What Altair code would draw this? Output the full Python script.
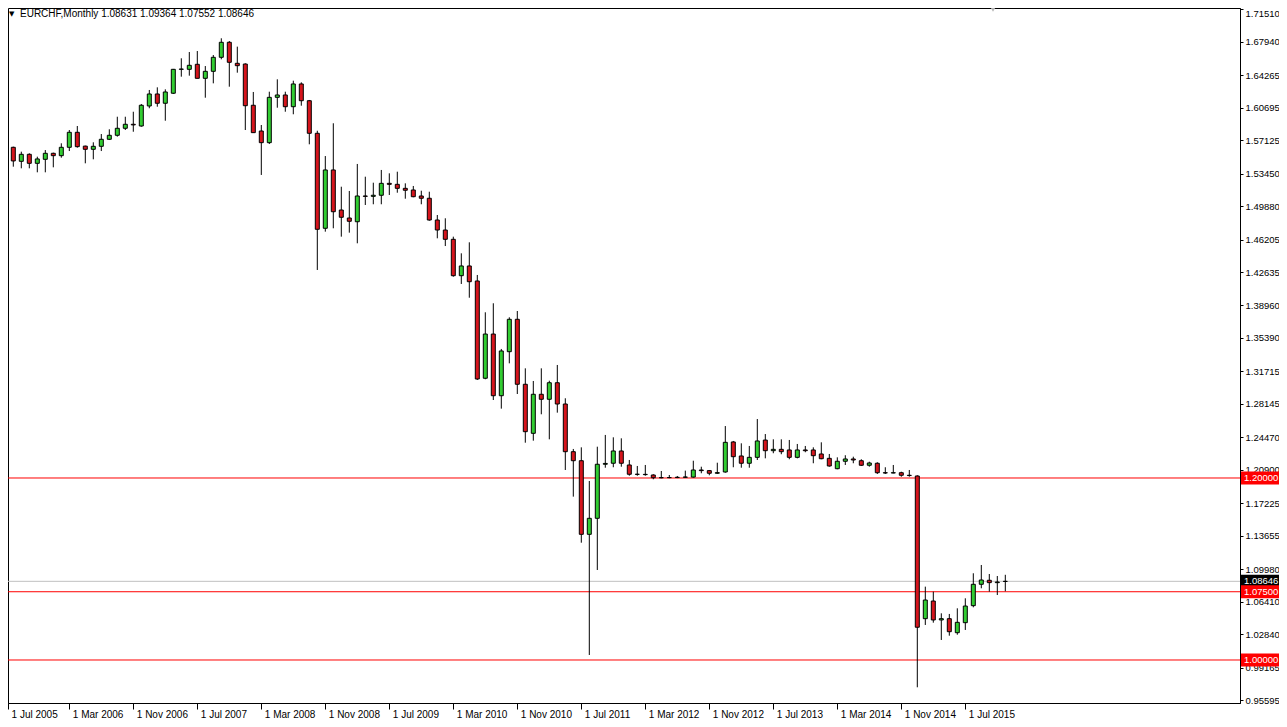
import json
import altair as alt
import pandas as pd

# ---- data (EURCHF monthly, Jul 2005 .. Dec 2015) ----
opens = [1.5513, 1.5634, 1.5480, 1.5557, 1.5458, 1.5502, 1.5568, 1.5542, 1.5634, 1.5799,
         1.5647, 1.5612, 1.5645, 1.5722, 1.5766, 1.5843, 1.5887, 1.5868, 1.6088, 1.6220,
         1.6118, 1.6228, 1.6491, 1.6491, 1.6546, 1.6392, 1.6469, 1.6623, 1.6788, 1.6557,
         1.6549, 1.6096, 1.5813, 1.5685, 1.6183, 1.6209, 1.6080, 1.6330, 1.6146, 1.5788,
         1.4744, 1.5385, 1.4945, 1.4857, 1.4816, 1.5099, 1.5095, 1.5107, 1.5238, 1.5227,
         1.5183, 1.5165, 1.5099, 1.5074, 1.4835, 1.4725, 1.4623, 1.4223, 1.4330, 1.4165,
         1.3096, 1.3582, 1.2904, 1.3388, 1.3744, 1.3030, 1.2491, 1.2920, 1.2865, 1.3047,
         1.2813, 1.2289, 1.2190, 1.1381, 1.1557, 1.2151, 1.2162, 1.2297, 1.2143, 1.2041,
         1.2040, 1.2033, 1.2003, 1.2004, 1.2005, 1.2008, 1.2010, 1.2088, 1.2081, 1.2052,
         1.2066, 1.2396, 1.2242, 1.2162, 1.2227, 1.2417, 1.2300, 1.2315, 1.2308, 1.2227,
         1.2308, 1.2308, 1.2264, 1.2216, 1.2102, 1.2184, 1.2209, 1.2190, 1.2140, 1.2162,
         1.2058, 1.2055, 1.2058, 1.2030, 1.2022, 1.0454, 1.0648, 1.0440, 1.0454, 1.0300,
         1.0410, 1.0597, 1.0832, 1.0876, 1.0850, 1.08631]
highs = [1.5659, 1.5641, 1.5586, 1.5568, 1.5531, 1.5604, 1.5575, 1.5678, 1.5824, 1.5868,
         1.5652, 1.5689, 1.5780, 1.5832, 1.5970, 1.5970, 1.6025, 1.6110, 1.6264, 1.6293,
         1.6271, 1.6495, 1.6612, 1.6681, 1.6692, 1.6527, 1.6648, 1.6832, 1.6802, 1.6740,
         1.6557, 1.6242, 1.5879, 1.6245, 1.6381, 1.6245, 1.6366, 1.6348, 1.6154, 1.5816,
         1.5538, 1.5898, 1.5201, 1.5154, 1.5451, 1.5311, 1.5245, 1.5385, 1.5348, 1.5366,
         1.5238, 1.5209, 1.5157, 1.5146, 1.4890, 1.4854, 1.4652, 1.4469, 1.4590, 1.4231,
         1.3821, 1.3920, 1.3418, 1.3766, 1.3835, 1.3205, 1.3066, 1.3205, 1.3069, 1.3242,
         1.2876, 1.2319, 1.2337, 1.1967, 1.2344, 1.2473, 1.2447, 1.2436, 1.2198, 1.2132,
         1.2143, 1.2041, 1.2077, 1.2033, 1.2022, 1.2081, 1.2190, 1.2124, 1.2088, 1.2168,
         1.2571, 1.2407, 1.2381, 1.2352, 1.2648, 1.2483, 1.2425, 1.2425, 1.2418, 1.2374,
         1.2352, 1.2337, 1.2392, 1.2264, 1.2227, 1.2250, 1.2234, 1.2206, 1.2179, 1.2173,
         1.2118, 1.2143, 1.2069, 1.2088, 1.2030, 1.0806, 1.0751, 1.0513, 1.0506, 1.0568,
         1.0678, 1.0953, 1.1044, 1.0945, 1.0923, 1.09364]
lows = [1.5440, 1.5421, 1.5403, 1.5403, 1.5359, 1.5359, 1.5414, 1.5520, 1.5593, 1.5630,
        1.5458, 1.5502, 1.5593, 1.5714, 1.5751, 1.5824, 1.5805, 1.5860, 1.6063, 1.6080,
        1.5926, 1.6220, 1.6410, 1.6421, 1.6392, 1.6179, 1.6337, 1.6601, 1.6300, 1.6454,
        1.5824, 1.5795, 1.5330, 1.5670, 1.6069, 1.6025, 1.5997, 1.6091, 1.5667, 1.4286,
        1.4707, 1.4744, 1.4652, 1.4696, 1.4579, 1.5000, 1.5008, 1.5008, 1.5110, 1.5135,
        1.5069, 1.5085, 1.5008, 1.4827, 1.4634, 1.4549, 1.4212, 1.4132, 1.3981, 1.3077,
        1.3085, 1.2857, 1.2762, 1.3260, 1.2923, 1.2388, 1.2410, 1.2700, 1.2425, 1.2718,
        1.2088, 1.1795, 1.1289, 1.0055, 1.0989, 1.2113, 1.2118, 1.2124, 1.2025, 1.2025,
        1.2025, 1.1986, 1.1997, 1.1998, 1.1999, 1.2000, 1.2004, 1.2052, 1.2030, 1.2044,
        1.2058, 1.2118, 1.2113, 1.2113, 1.2198, 1.2216, 1.2272, 1.2261, 1.2206, 1.2216,
        1.2283, 1.2162, 1.2206, 1.2124, 1.2096, 1.2143, 1.2162, 1.2132, 1.2124, 1.2044,
        1.2044, 1.2052, 1.2014, 1.2014, 0.9700, 1.0385, 1.0410, 1.0220, 1.0267, 1.0278,
        1.0330, 1.0579, 1.0788, 1.0751, 1.0714, 1.07552]
closes = [1.5641, 1.5484, 1.5557, 1.5458, 1.5506, 1.5568, 1.5542, 1.5634, 1.5799, 1.5641,
          1.5612, 1.5645, 1.5722, 1.5766, 1.5843, 1.5887, 1.5880, 1.6096, 1.6220, 1.6118,
          1.6242, 1.6491, 1.6494, 1.6535, 1.6392, 1.6469, 1.6623, 1.6788, 1.6568, 1.6531,
          1.6091, 1.5795, 1.5685, 1.6183, 1.6209, 1.6080, 1.6330, 1.6146, 1.5788, 1.4733,
          1.5385, 1.4926, 1.4865, 1.4821, 1.5099, 1.5095, 1.5107, 1.5238, 1.5227, 1.5183,
          1.5162, 1.5091, 1.5074, 1.4835, 1.4725, 1.4623, 1.4223, 1.4330, 1.4157, 1.3088,
          1.3582, 1.2904, 1.3396, 1.3744, 1.3030, 1.2509, 1.2920, 1.2865, 1.3047, 1.2813,
          1.2289, 1.2190, 1.1381, 1.1557, 1.2151, 1.2160, 1.2297, 1.2162, 1.2041, 1.2040,
          1.2037, 1.2003, 1.2004, 1.2005, 1.2008, 1.2011, 1.2088, 1.2081, 1.2052, 1.2059,
          1.2392, 1.2234, 1.2162, 1.2227, 1.2407, 1.2300, 1.2315, 1.2289, 1.2227, 1.2308,
          1.2300, 1.2245, 1.2212, 1.2132, 1.2184, 1.2209, 1.2198, 1.2140, 1.2165, 1.2058,
          1.2055, 1.2058, 1.2030, 1.2027, 1.0360, 1.0659, 1.0440, 1.0454, 1.0311, 1.0414,
          1.0593, 1.0832, 1.0879, 1.0850, 1.0857, 1.08646]

tick_labels = ["1 Jul 2005", "1 Mar 2006", "1 Nov 2006", "1 Jul 2007", "1 Mar 2008",
               "1 Nov 2008", "1 Jul 2009", "1 Mar 2010", "1 Nov 2010", "1 Jul 2011",
               "1 Mar 2012", "1 Nov 2012", "1 Jul 2013", "1 Mar 2014", "1 Nov 2014",
               "1 Jul 2015"]
price_ticks = [1.71510, 1.67940, 1.64265, 1.60695, 1.57125, 1.53450, 1.49880, 1.46205,
               1.42635, 1.38960, 1.35390, 1.31715, 1.28145, 1.24470, 1.20900, 1.17225,
               1.13655, 1.09980, 1.06410, 1.02840, 0.99165, 0.95595]
level_prices = [1.20000, 1.07500, 1.00000]
symbol = "EURCHF,Monthly"

# ---- tables ----
n = len(opens)
months = []
yy, mm = 2005, 7
for _ in range(n):
    months.append(f"{yy}-{mm:02d}")
    mm += 1
    if mm > 12:
        mm, yy = 1, yy + 1

df = pd.DataFrame({"idx": list(range(n)), "month": months, "open": opens,
                   "high": highs, "low": lows, "close": closes})
df["dir"] = ["up" if c >= o else "down" for o, c in zip(opens, closes)]

last_close = closes[-1]
cur_tag = pd.DataFrame({"price": [last_close]})
cur_tag["label"] = [f"{p:.5f}" for p in cur_tag["price"]]
lvl_tag = pd.DataFrame({"price": level_prices})
lvl_tag["label"] = [f"{p:.5f}" for p in lvl_tag["price"]]

FONT = "Liberation Sans"
tick_step = 8
X_MIN, X_MAX = 0.3375, 154.3375
x_scale = alt.Scale(domain=[X_MIN, X_MAX], nice=False, zero=False, padding=0)
y_scale = alt.Scale(domain=[0.952743, 1.716479], nice=False, zero=False, padding=0)

# first label sits at the left edge (its month starts just before the visible range)
x_tick_values = [max(i * tick_step, X_MIN + 0.01) for i in range(len(tick_labels))]
label_expr = f"{json.dumps(tick_labels)}[round(datum.value / {tick_step})]"
x_axis = alt.Axis(values=x_tick_values,
                  labelExpr=label_expr, title=None, grid=False,
                  tickSize=6, tickColor="black", domainColor="black",
                  labelAlign="left", labelBaseline="alphabetic", labelPadding=8,
                  labelOffset=3, labelFont=FONT, labelFontSize=10, labelColor="black",
                  labelOverlap=False, labelFlush=False, labelBound=False)
y_axis = alt.Axis(orient="right", values=price_ticks, format=".5f", title=None,
                  grid=False, tickSize=3, tickColor="black", domainColor="black",
                  labelPadding=2, labelFont=FONT, labelFontSize=9.5, labelColor="black",
                  labelBaseline="middle", labelOverlap=False, labelFlush=False,
                  labelBound=False,
                  labelOffset={"condition": {"test": f"datum.value > {price_ticks[1] + 0.01}",
                                             "value": 4}, "value": 0})


def Y(field):
    return alt.Y(field, scale=y_scale, axis=y_axis)


def X(field):
    return alt.X(field, scale=x_scale, axis=x_axis)


base = alt.Chart(df)

level_rules = alt.Chart(lvl_tag).mark_rule(color="#FF0000", strokeWidth=1).encode(
    y=Y("price:Q"))
cur_rule = alt.Chart(cur_tag).mark_rule(color="#C0C0C0", strokeWidth=1).encode(
    y=Y("price:Q"))

wicks = base.mark_rule(color="black", strokeWidth=1, clip=True).encode(
    x=X("idx:Q"), y=Y("low:Q"), y2="high:Q")

bodies = base.mark_bar(width=4, stroke="black", strokeWidth=1, clip=True).encode(
    x=X("idx:Q"), y=Y("open:Q"), y2="close:Q",
    fill=alt.Fill("dir:N", scale=alt.Scale(domain=["up", "down"],
                                           range=["#32CD32", "#D5141C"]), legend=None))

BOX_X0, BOX_X1, TXT_X = 1233, 1271, 1236
cur_box = alt.Chart(cur_tag).mark_rect(yOffset=-6.5, y2Offset=6.5, color="#000000").encode(
    x=alt.value(BOX_X0), x2=alt.value(BOX_X1), y=Y("price:Q"), y2="price:Q")
lvl_box = alt.Chart(lvl_tag).mark_rect(yOffset=-6.5, y2Offset=6.5, color="#FF0000").encode(
    x=alt.value(BOX_X0), x2=alt.value(BOX_X1), y=Y("price:Q"), y2="price:Q")
cur_text = alt.Chart(cur_tag).mark_text(color="white", font=FONT, fontSize=9.5,
                                        align="left", baseline="middle").encode(
    x=alt.value(TXT_X), y=Y("price:Q"), text="label:N")
lvl_text = alt.Chart(lvl_tag).mark_text(color="white", font=FONT, fontSize=9.5,
                                        align="left", baseline="middle").encode(
    x=alt.value(TXT_X), y=Y("price:Q"), text="label:N")

header_text = f"{symbol}  " + " ".join(f"{v:.5f}" for v in
                                        (opens[-1], highs[-1], lows[-1], closes[-1]))
header = alt.Chart(pd.DataFrame({"t": [header_text]})).mark_text(
    font=FONT, fontSize=10, color="black", align="left", baseline="alphabetic").encode(
    x=alt.value(12), y=alt.value(9), text="t:N")
arrow = alt.Chart(pd.DataFrame({"t": ["\u25BC"]})).mark_text(
    font="DejaVu Sans", fontSize=7, color="black", align="left", baseline="alphabetic").encode(
    x=alt.value(1), y=alt.value(8), text="t:N")
shift_mark = alt.Chart(pd.DataFrame({"t": [0]})).mark_point(
    shape="triangle-down", filled=True, color="#B4B4B4", size=40, opacity=1).encode(
    x=alt.value(985), y=alt.value(1))

chart = alt.layer(level_rules, cur_rule, wicks, bodies, cur_box, lvl_box, cur_text,
                  lvl_text, header, arrow, shift_mark).properties(
    width=1232, height=695,
    autosize=alt.AutoSizeParams(type="none"),
    padding={"left": 0, "top": 0, "right": 39, "bottom": 15},
    background="white",
).configure_view(stroke="black", strokeWidth=1).configure_axis(labelOverlap=False)

chart.save("out.html", embed_options={"renderer": "svg", "actions": False})
